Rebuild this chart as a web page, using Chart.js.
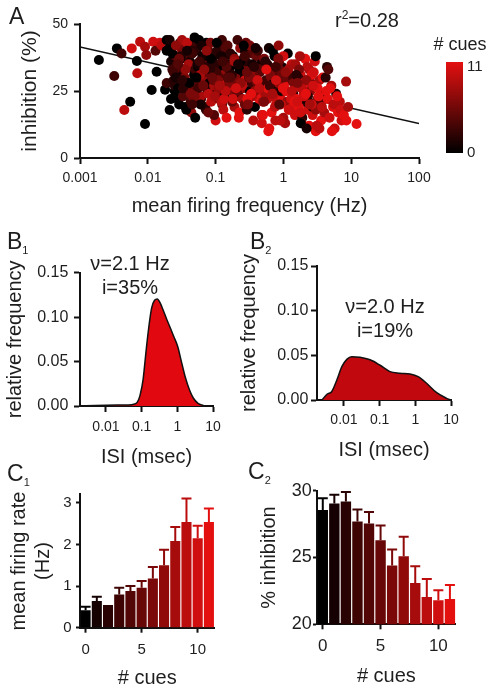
<!DOCTYPE html>
<html>
<head>
<meta charset="utf-8">
<script src="https://cdn.jsdelivr.net/npm/chart.js@4.4.0/dist/chart.umd.min.js"></script>
<style>
  body { margin: 0; background: #fff; width: 494px; height: 690px; position: relative; overflow: hidden;
         font-family: "Liberation Sans", Arial, sans-serif; color: #1e1e1e; }
  canvas { position: absolute; }
  .lbl { position: absolute; font-size: 23px; line-height: 1; }
  .lbl span { font-size: 11px; position: relative; top: 5px; }
  .note { position: absolute; font-size: 20px; line-height: 1; white-space: nowrap; transform: translate(-50%, -50%); }
</style>
</head>
<body>
<canvas id="chartA" width="494" height="225" style="left:0;top:0"></canvas>
<canvas id="chartB1" width="240" height="245" style="left:0;top:225px"></canvas>
<canvas id="chartB2" width="259" height="245" style="left:235px;top:225px"></canvas>
<canvas id="chartC1" width="245" height="230" style="left:0;top:460px"></canvas>
<canvas id="chartC2" width="259" height="230" style="left:235px;top:460px"></canvas>

<div class="lbl" style="left:9px;top:5px">A</div>
<div class="lbl" style="left:7px;top:230px">B<span>1</span></div>
<div class="lbl" style="left:250px;top:230px">B<span>2</span></div>
<div class="lbl" style="left:7px;top:462px">C<span>1</span></div>
<div class="lbl" style="left:248px;top:460px">C<span>2</span></div>

<div class="note" style="left:335px;top:10px;transform:none">r<span style="font-size:12px;position:relative;top:-8px">2</span>=0.28</div>
<div class="note" style="left:130px;top:263px">ν=2.1 Hz</div>
<div class="note" style="left:130px;top:287px">i=35%</div>
<div class="note" style="left:385px;top:306px">ν=2.0 Hz</div>
<div class="note" style="left:385px;top:330px">i=19%</div>

<script>
// ---------- panel A: one point per cell ----------
const freqHz = [
  // sparse cells below 0.02 Hz
  0.0019,0.0035,0.0032,0.0041,0.0045,0.0055,0.0058,0.0069,0.0070,0.0077,
  0.0091,0.0091,0.0095,0.0114,0.0120,0.0130,0.0135,0.0150,0.0160,0.0180,
  0.0190,0.0190,0.0190,0.0210,0.0220,
  // 0.02 - 0.05
  0.021,0.022,0.023,0.024,0.025,0.026,0.027,0.028,0.029,0.030,
  0.021,0.023,0.025,0.027,0.029,0.031,0.033,0.035,0.037,0.039,
  0.032,0.034,0.036,0.038,0.040,0.042,0.044,0.046,0.048,0.050,
  0.031,0.033,0.035,0.038,0.041,0.043,0.045,0.047,0.049,0.050,
  0.024,0.026,0.028,0.030,0.034,0.037,0.040,0.044,0.047,0.050,
  // 0.05 - 0.15
  0.052,0.055,0.058,0.061,0.064,0.067,0.070,0.073,0.076,0.080,
  0.053,0.057,0.060,0.064,0.068,0.072,0.076,0.081,0.086,0.090,
  0.084,0.088,0.092,0.096,0.100,0.105,0.110,0.115,0.120,0.125,
  0.090,0.095,0.100,0.106,0.112,0.118,0.124,0.130,0.137,0.145,
  0.130,0.135,0.140,0.145,0.150,0.055,0.062,0.070,0.078,0.087,
  0.095,0.104,0.113,0.122,0.132,0.142,0.060,0.075,0.098,0.118,
  // 0.15 - 0.5
  0.15,0.16,0.17,0.18,0.19,0.20,0.21,0.22,0.23,0.24,
  0.155,0.165,0.175,0.185,0.195,0.21,0.225,0.24,0.255,0.27,
  0.25,0.26,0.27,0.28,0.29,0.30,0.32,0.34,0.36,0.38,
  0.28,0.30,0.32,0.34,0.36,0.38,0.40,0.42,0.45,0.48,
  0.40,0.42,0.44,0.46,0.48,0.50,0.17,0.20,0.23,0.27,
  0.31,0.35,0.39,0.43,0.47,0.19,0.22,0.26,0.33,0.41,
  // 0.5 - 1.5
  0.52,0.55,0.58,0.61,0.64,0.67,0.70,0.74,0.78,0.82,
  0.54,0.58,0.62,0.66,0.70,0.75,0.80,0.85,0.90,0.95,
  0.86,0.90,0.95,1.00,1.05,1.10,1.16,1.22,1.28,1.35,
  0.95,1.00,1.06,1.12,1.18,1.25,1.32,1.40,1.48,0.60,
  0.68,0.76,0.84,0.92,1.02,1.14,1.26,1.38,0.72,0.88,
  // 1.5 - 4
  1.5,1.6,1.7,1.8,1.9,2.0,2.1,2.2,2.3,2.4,
  1.55,1.65,1.75,1.85,1.95,2.1,2.25,2.4,2.55,2.7,
  2.5,2.6,2.7,2.8,2.9,3.0,3.2,3.4,3.6,3.8,
  2.8,3.0,3.2,3.4,3.6,3.8,4.0,1.7,2.0,2.3,
  2.6,3.0,3.1,1.8,2.2,
  // above 4
  4.2,4.5,4.8,5.1,5.4,5.7,6.0,6.4,6.8,7.2,
  4.4,4.9,5.5,6.2,7.0,7.8,8.5,9.0,4.6,5.2,
  8.4,12.0,
  // dense core of the cloud
  0.026,0.029,0.033,0.036,0.041,0.045,0.049,0.054,0.059,0.065,
  0.071,0.078,0.085,0.093,0.102,0.111,0.121,0.133,0.145,0.158,
  0.173,0.189,0.206,0.225,0.246,0.268,0.293,0.320,0.349,0.381,
  0.416,0.454,0.496,0.541,0.591,0.645,0.704,0.769,0.839,0.916,
  1.00,1.09,1.19,1.30,1.42,1.55,1.69,1.85,2.02,2.20,
  0.028,0.032,0.038,0.043,0.052,0.058,0.066,0.074,0.083,0.097,
  0.108,0.127,0.140,0.165,0.180,0.215,0.235,0.290,0.335,0.370,
  0.440,0.520,0.560,0.630,0.690,0.780,0.870,0.980,1.080,1.200,
  1.330,1.460,1.620,1.780,2.150,2.450,2.750,3.300,3.700,4.300,
  0.045,0.068,0.089,0.115,0.150,0.200,0.300,0.500,0.900,1.600
];
const inhibitionPct = [
  36.6,40.9,30.6,39.0,17.9,21.0,40.9,36.2,31.6,43.4,
  12.7,41.5,38.4,25.4,43.4,40.0,32.2,43.0,42.0,25.5,
  44.0,40.0,28.0,17.9,22.0,

  41,36,33,29,25,38,31,22,34,43,
  44,39,27,35,20,41,30,24,37,28,
  44,33,19,40,26,36,17,42,31,15,
  38,23,30,43,34,21,39,28,45,24,
  32,42,26,37,29,18,35,40,22,33,

  40,34,27,22,37,30,19,43,25,35,
  30,44,23,38,32,18,41,28,21,36,
  43,26,39,31,14,33,24,42,29,20,
  37,16,28,40,22,34,44,18,38,26,
  31,23,41,15,35,26,42,33,17,39,
  27,43,30,21,36,25,20,32,35,28,

  42,33,25,38,19,29,36,23,41,31,
  27,39,21,35,30,44,17,34,26,40,
  22,37,29,43,18,33,25,39,14,31,
  36,21,42,28,34,19,38,24,32,16,
  29,40,22,35,13,27,31,26,36,20,
  30,23,41,33,27,37,15,42,23,28,

  37,29,22,41,33,17,26,38,20,31,
  24,35,11,30,40,19,27,42,23,34,
  36,21,28,15,32,25,39,18,30,22,
  26,38,13,33,20,29,35,24,16,10,
  31,14,37,25,27,21,31,19,28,33,

  35,27,20,31,15,24,37,29,18,33,
  22,30,38,13,26,21,34,12,28,16,
  25,31,19,27,36,10,22,29,14,24,
  32,18,26,11,21,30,17,33,28,23,
  20,38,12,13,11,

  30,22,15,27,19,11,24,17,21,14,
  34,26,20,23,18,16,14,19,33,10,
  28.5,12.7,

  30,37,26,33,28,39,23,35,31,27,
  34,24,37,29,32,26,38,22,34,28,
  31,36,25,33,27,38,22,30,35,25,
  29,33,21,36,26,31,23,34,28,20,
  30,25,33,22,28,31,19,26,23,29,
  35,29,40,24,30,36,27,40,33,23,
  29,36,25,30,22,35,28,32,24,34,
  26,21,33,27,24,29,20,26,32,18,
  25,21,28,17,24,20,27,23,19,25,
  20,33,30,27,30,26,20,16,14,21
];
const cuesPerCell = [
  0,0,3,3,9,0,10,0,9,9,
  0,8,7,0,10,4,0,10,9,0,
  0,0,3,0,0,

  0,1,3,2,0,4,1,0,5,2,
  1,0,2,3,0,6,1,2,4,0,
  8,3,0,2,5,1,7,3,0,0,
  2,4,6,9,0,3,1,5,0,2,
  3,7,0,1,4,0,8,2,6,3,

  2,0,5,3,1,7,4,0,2,6,
  3,0,8,1,4,2,5,0,9,3,
  6,1,4,0,10,2,7,3,0,5,
  1,4,8,2,6,0,3,9,1,5,
  7,2,4,11,0,3,1,6,5,2,
  8,0,4,9,3,7,1,5,2,10,

  4,1,6,0,8,3,5,2,7,1,
  9,2,5,0,6,3,11,4,7,1,
  8,3,10,5,2,6,0,4,9,7,
  2,11,6,3,8,0,5,10,4,9,
  7,3,11,1,10,6,2,8,0,5,
  4,9,1,6,3,7,11,0,8,5,

  6,3,9,1,7,11,4,0,10,5,
  8,2,11,6,0,9,3,7,10,1,
  5,11,2,8,6,10,0,9,4,7,
  3,10,8,1,11,5,9,2,10,11,
  4,9,6,1,11,7,3,10,0,5,

  8,11,5,10,2,9,11,4,10,7,
  11,3,8,6,10,1,9,11,5,10,
  7,11,2,9,10,11,6,8,11,3,
  10,7,11,9,4,11,8,6,11,2,
  10,0,9,0,1,

  2,11,10,8,11,10,1,11,9,10,
  2,11,9,11,10,11,11,8,4,11,
  8,11,

  1,5,2,7,0,3,6,1,8,4,
  2,9,0,5,3,7,1,10,4,6,
  2,8,5,0,9,3,11,6,1,7,
  10,4,8,2,11,6,9,3,7,10,
  5,11,8,10,6,2,11,9,10,7,
  4,2,1,6,0,3,5,7,2,8,
  6,3,9,4,10,1,7,5,11,2,
  9,6,11,3,8,10,4,11,7,10,
  9,11,6,10,11,8,10,11,9,11,
  3,7,5,8,4,10,6,11,9,10
];
const fitFreq = [0.001, 100];
const fitInhib = [41.4, 12.9];
const ticksAx = [0.001, 0.01, 0.1, 1, 10, 100];
const ticksAy = [0, 25, 50];

// ---------- panels B: ISI distributions ----------
const isiB1 = [0.002,0.005,0.01,0.02,0.04,0.06,0.075,0.09,0.11,0.13,0.155,0.19,0.23,0.275,0.33,0.4,0.51,0.65,0.8,1.03,1.3,1.66,2.2,2.8,3.8,5.4];
const relFreqB1 = [0,0.0005,0.0008,0.001,0.0012,0.002,0.004,0.012,0.03,0.058,0.0855,0.11,0.119,0.1204,0.116,0.108,0.097,0.087,0.078,0.0667,0.05,0.033,0.018,0.009,0.003,0.0005];
const isiB2 = [0.0024,0.0034,0.0045,0.0063,0.0087,0.012,0.0165,0.028,0.054,0.1,0.194,0.37,0.71,1.2,2.07,3.97,7.5,9.8];
const relFreqB2 = [0,0.0067,0.0093,0.0224,0.0373,0.0455,0.0485,0.0478,0.045,0.0392,0.0318,0.03,0.0291,0.0261,0.0187,0.0082,0.0019,0];
const ticksBx = [0.01, 0.1, 1, 10];
const ticksBy = [0, 0.05, 0.1, 0.15];

// ---------- panels C: means by number of cues ----------
const cueCounts = [0,1,2,3,4,5,6,7,8,9,10,11];
const rateMean  = [0.42,0.64,0.50,0.80,0.88,0.96,1.18,1.50,2.08,2.54,2.15,2.54];
const rateUpper = [0.50,0.74,0.52,0.96,1.00,1.12,1.46,1.87,2.42,3.10,2.45,2.86];
const inhibMean  = [28.55,29.05,29.2,27.7,27.55,26.3,24.4,25.1,23.1,22.05,21.8,21.9];
const inhibUpper = [29.43,29.7,29.9,28.6,28.4,27.4,25.6,26.55,24.35,23.4,22.55,22.95];
const ticksCx = [0, 5, 10];
const ticksC1y = [0, 1, 2, 3];
const ticksC2y = [20, 25, 30];

Chart.defaults.font.family = "'Liberation Sans', Arial, sans-serif";
Chart.defaults.color = '#1e1e1e';

function cueColor(c) {
  const t = c / 11;
  return 'rgb(' + Math.round(228 * t) + ',' + Math.round(16 * t) + ',' + Math.round(16 * t) + ')';
}

function axis(o) {
  const vertical = o.side === 'y';
  const a = {
    type: o.type || 'linear',
    afterFit: s => { if (vertical) s.width = o.size; else s.height = o.size; },
    afterBuildTicks: s => { s.ticks = o.ticks.map(v => ({ value: v })); },
    ticks: { font: { size: o.tickSize }, padding: o.pad, callback: o.fmt || (v => String(v)), maxRotation: 0, autoSkip: false },
    grid: { drawOnChartArea: false, tickLength: o.tickLen || 6, tickWidth: 2, tickColor: '#111', offset: false },
    border: { color: '#111', width: 2 },
    title: { display: true, text: o.title, font: { size: o.titleSize || 20 },
             padding: { top: o.titlePad, bottom: o.titlePad } }
  };
  if (o.min !== undefined) a.min = o.min;
  if (o.max !== undefined) a.max = o.max;
  return a;
}

const base = {
  responsive: false,
  devicePixelRatio: 1,
  animation: false,
  events: [],
  plugins: { legend: { display: false }, tooltip: { enabled: false } }
};

// colour scale next to panel A
const colorBar = {
  id: 'colorBar',
  afterDraw(chart) {
    const ctx = chart.ctx;
    const g = ctx.createLinearGradient(0, 153, 0, 62);
    g.addColorStop(0, cueColor(0));
    g.addColorStop(1, cueColor(11));
    ctx.save();
    ctx.fillStyle = g;
    ctx.fillRect(446, 62, 17, 91);
    ctx.fillStyle = '#1e1e1e';
    ctx.textBaseline = 'middle';
    ctx.textAlign = 'left';
    ctx.font = "15px 'Liberation Sans'";
    ctx.fillText('11', 467, 67);
    ctx.fillText('0', 467, 153);
    ctx.textAlign = 'center';
    ctx.font = "18px 'Liberation Sans'";
    ctx.fillText('# cues', 460, 45);
    ctx.restore();
  }
};

function errorBars(upper) {
  return {
    id: 'errorBars',
    afterDatasetsDraw(chart) {
      const ctx = chart.ctx;
      const y = chart.scales.y;
      ctx.save();
      ctx.lineWidth = 2;
      chart.getDatasetMeta(0).data.forEach((bar, i) => {
        const top = y.getPixelForValue(upper[i]);
        ctx.strokeStyle = cueColor(cueCounts[i]);
        ctx.beginPath();
        ctx.moveTo(bar.x, bar.y);
        ctx.lineTo(bar.x, top);
        ctx.moveTo(bar.x - 5, top);
        ctx.lineTo(bar.x + 5, top);
        ctx.stroke();
      });
      ctx.restore();
    }
  };
}

// A
new Chart(document.getElementById('chartA'), {
  type: 'scatter',
  data: {
    datasets: [
      {
        data: freqHz.map((x, i) => ({ x: x, y: inhibitionPct[i] })),
        pointRadius: 5,
        pointBorderWidth: 0,
        pointBackgroundColor: cuesPerCell.map(cueColor),
        clip: false
      },
      {
        data: fitFreq.map((x, i) => ({ x: x, y: fitInhib[i] })),
        showLine: true,
        pointRadius: 0,
        borderColor: '#111',
        borderWidth: 1.5
      }
    ]
  },
  options: Object.assign({}, base, {
    layout: { padding: { left: 0, top: 24, right: 75, bottom: 0 } },
    scales: {
      x: axis({ side: 'x', type: 'logarithmic', min: 0.001, max: 100, ticks: ticksAx, size: 67,
                tickSize: 14, pad: 5.6, title: 'mean firing frequency (Hz)', titlePad: 7 }),
      y: axis({ side: 'y', min: 0, max: 50, ticks: ticksAy, size: 80,
                tickSize: 14, pad: 6, title: 'inhibition (%)', titleSize: 21, titlePad: 18 })
    }
  }),
  plugins: [colorBar]
});

// B1, B2
function isiChart(id, isi, rel, fill, geo) {
  return new Chart(document.getElementById(id), {
    type: 'line',
    data: {
      datasets: [{
        data: isi.map((x, i) => ({ x: x, y: rel[i] })),
        borderColor: '#111',
        borderWidth: 1.5,
        backgroundColor: fill,
        fill: 'origin',
        pointRadius: 0,
        cubicInterpolationMode: 'monotone'
      }]
    },
    options: Object.assign({}, base, {
      layout: { padding: { left: 0, top: geo.top, right: geo.right, bottom: 0 } },
      scales: {
        x: axis({ side: 'x', type: 'logarithmic', min: geo.min, max: 10, ticks: ticksBx, size: geo.xh,
                  tickSize: 14, pad: geo.xpad, title: 'ISI (msec)', titlePad: geo.xtp }),
        y: axis({ side: 'y', min: 0, max: 0.15, ticks: ticksBy, size: geo.yw, fmt: v => v.toFixed(2),
                  tickSize: 16, pad: geo.ypad, title: 'relative frequency', titlePad: geo.ytp })
      }
    })
  });
}
isiChart('chartB1', isiB1, relFreqB1, '#e1080f',
  { top: 47.7, right: 27, min: 0.00187, xh: 64, xpad: 6.3, xtp: 1, yw: 80, ypad: 5.7, ytp: 3 });
isiChart('chartB2', isiB2, relFreqB2, '#c0080e',
  { top: 41, right: 43, min: 0.00175, xh: 70, xpad: 5.6, xtp: 8, yw: 82, ypad: 2.7, ytp: 2 });

// C1, C2
function cueChart(id, mean, upper, geo) {
  return new Chart(document.getElementById(id), {
    type: 'bar',
    data: {
      labels: cueCounts.map(String),
      datasets: [{
        data: mean,
        backgroundColor: cueCounts.map(cueColor),
        categoryPercentage: 1,
        barPercentage: 0.9
      }]
    },
    options: Object.assign({}, base, {
      layout: { padding: { left: 0, top: geo.top, right: geo.right, bottom: 0 } },
      scales: {
        x: axis({ side: 'x', type: 'category', ticks: ticksCx, size: geo.xh, fmt: v => String(cueCounts[v]),
                  tickSize: geo.ts, tickLen: 5, pad: geo.xpad, title: '# cues', titlePad: geo.xtp }),
        y: axis({ side: 'y', min: geo.min, max: geo.max, ticks: geo.yticks, size: geo.yw,
                  tickSize: geo.yts, tickLen: 4, pad: geo.ypad, title: geo.title, titlePad: geo.ytp })
      }
    }),
    plugins: [errorBars(upper)]
  });
}
cueChart('chartC1', rateMean, rateUpper,
  { top: 34.4, right: 30.5, xh: 62.3, ts: 15, xpad: 8.3, xtp: 0, yw: 80, yts: 15, ypad: 4.3, ytp: 7,
    min: 0, max: 3.2, yticks: ticksC1y, title: ['mean firing rate', '(Hz)'] });
cueChart('chartC2', inhibMean, inhibUpper,
  { top: 30.7, right: 38.3, xh: 65.7, ts: 17, xpad: 7.2, xtp: 2, yw: 82, yts: 18, ypad: 1.3, ytp: 22,
    min: 20, max: 30, yticks: ticksC2y, title: '% inhibition' });
</script>
</body>
</html>
